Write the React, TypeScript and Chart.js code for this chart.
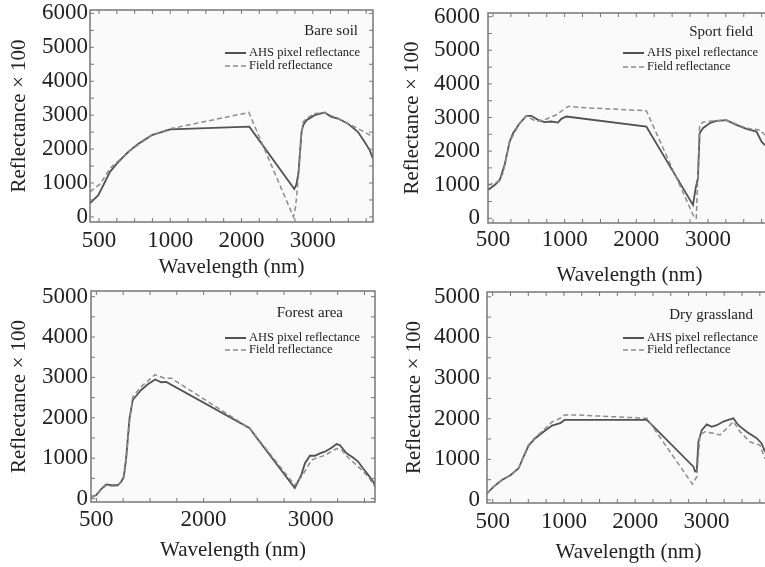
import React, { useEffect, useRef } from 'react';
import { Chart, registerables, LinearScale } from 'chart.js';

// ---------- data ----------
const panelTitles = ['Bare soil', 'Sport field', 'Forest area', 'Dry grassland'];
const seriesLabels = ['AHS pixel reflectance', 'Field reflectance'];
const xAxisTitle = 'Wavelength (nm)';
const yAxisTitle = 'Reflectance \u00d7 100';

const xTicksStd = [500, 1000, 2000, 3000];
const xTickLabelsStd = ['500', '1000', '2000', '3000'];
const xTicksForest = [500, 2000, 3000];
const xTickLabelsForest = ['500', '2000', '3000'];
const yTicksTop = [0, 1000, 2000, 3000, 4000, 5000, 6000];
const yTicksBottom = [0, 1000, 2000, 3000, 4000, 5000];

const bareSoilAhsX = [437, 495, 542, 577, 636, 707, 777, 871, 1000, 2110, 2741, 2770, 2800, 2825, 2843, 2866, 2912, 3028, 3168, 3262, 3355, 3495, 3636, 3729, 3799, 3846];
const bareSoilAhsY = [400, 640, 1030, 1330, 1620, 1920, 2160, 2410, 2580, 2660, 820, 950, 1300, 2000, 2500, 2700, 2850, 3000, 3080, 2950, 2900, 2750, 2500, 2210, 1970, 1720];
const bareSoilFieldX = [437, 510, 577, 707, 871, 1000, 2103, 2730, 2760, 2800, 2840, 2866, 2912, 3028, 3168, 3355, 3542, 3729, 3846];
const bareSoilFieldY = [740, 980, 1430, 1920, 2410, 2600, 3080, 0, 300, 1200, 2400, 2800, 2900, 3050, 3070, 2900, 2700, 2500, 2360];

const sportAhsX = [465, 512, 547, 581, 616, 640, 686, 733, 767, 814, 860, 907, 953, 977, 1023, 2140, 2791, 2828, 2860, 2884, 2930, 3023, 3117, 3257, 3397, 3537, 3678, 3748, 3794];
const sportAhsY = [845, 990, 1140, 1590, 2280, 2530, 2830, 3050, 3050, 2930, 2860, 2880, 2850, 2960, 3030, 2730, 400, 890, 1190, 2530, 2680, 2830, 2900, 2920, 2780, 2660, 2580, 2280, 2180];
const sportFieldX = [465, 535, 570, 616, 686, 733, 802, 860, 942, 1047, 1209, 2140, 2814, 2837, 2884, 2930, 3070, 3257, 3537, 3724, 3794];
const sportFieldY = [990, 1090, 1340, 2280, 2830, 3050, 2880, 2930, 3080, 3330, 3300, 3200, 0, 0, 2780, 2860, 2900, 2920, 2680, 2630, 2480];

const forestAhsX = [425, 495, 565, 636, 706, 799, 846, 883, 916, 963, 1009, 1126, 1220, 1322, 1407, 1477, 2430, 2477, 2850, 2913, 2944, 2991, 3037, 3084, 3131, 3193, 3240, 3271, 3333, 3396, 3442, 3489, 3536, 3583, 3598];
const forestAhsY = [40, 80, 230, 350, 330, 330, 410, 540, 990, 1980, 2440, 2690, 2830, 2950, 2880, 2890, 1740, 1570, 260, 600, 870, 1060, 1060, 1120, 1160, 1260, 1350, 1320, 1120, 1010, 910, 740, 580, 410, 330];
const forestFieldX = [425, 495, 565, 636, 706, 799, 883, 916, 963, 1009, 1126, 1322, 1454, 1547, 2430, 2850, 2913, 3006, 3037, 3131, 3240, 3287, 3349, 3442, 3536, 3598];
const forestFieldY = [30, 80, 210, 330, 310, 310, 500, 910, 1900, 2520, 2770, 3070, 2980, 2980, 1740, 330, 540, 950, 990, 1070, 1240, 1200, 1010, 790, 540, 290];

const grassAhsX = [460, 507, 565, 624, 682, 717, 752, 799, 857, 916, 974, 1009, 2164, 2818, 2841, 2864, 2888, 2935, 3005, 3075, 3145, 3238, 3308, 3379, 3449, 3565, 3706, 3776, 3822];
const grassAhsY = [160, 330, 490, 610, 780, 1070, 1340, 1520, 1680, 1830, 1890, 1970, 1970, 820, 700, 710, 1430, 1720, 1860, 1800, 1840, 1930, 1970, 2010, 1840, 1680, 1520, 1390, 1190];
const grassFieldX = [460, 507, 565, 624, 682, 717, 752, 799, 857, 916, 974, 1009, 1195, 2164, 2804, 2864, 2911, 2981, 3098, 3191, 3285, 3379, 3472, 3612, 3752, 3822];
const grassFieldY = [160, 330, 490, 610, 780, 1080, 1360, 1540, 1720, 1920, 2010, 2090, 2090, 2010, 390, 570, 1600, 1680, 1640, 1600, 1760, 1930, 1680, 1430, 1350, 1020];

// ---------- piecewise x scale (tick labels equally spaced) ----------
const anchorMap = new WeakMap<HTMLCanvasElement, number[]>();

class PiecewiseScale extends LinearScale {
  static id = 'piecewise';
  static defaults = LinearScale.defaults;
  anchors(): number[] {
    return anchorMap.get((this as any).chart.canvas) || [0, 1];
  }
  toU(v: number): number {
    const a = this.anchors();
    const n = a.length;
    if (v <= a[1]) return (v - a[0]) / (a[1] - a[0]);
    for (let i = 1; i < n - 1; i++) {
      if (v <= a[i + 1]) return i + (v - a[i]) / (a[i + 1] - a[i]);
    }
    return n - 2 + (v - a[n - 2]) / (a[n - 1] - a[n - 2]);
  }
  fromU(u: number): number {
    const a = this.anchors();
    const n = a.length;
    const i = Math.max(0, Math.min(n - 2, Math.floor(u)));
    return a[i] + (u - i) * (a[i + 1] - a[i]);
  }
  buildTicks() {
    (this as any).start = this.min;
    (this as any).end = this.max;
    return this.anchors().map((v) => ({ value: v }));
  }
  getPixelForValue(value: number) {
    const u0 = this.toU(this.min);
    const u1 = this.toU(this.max);
    return this.getPixelForDecimal((this.toU(value) - u0) / (u1 - u0));
  }
  getValueForPixel(pixel: number) {
    const u0 = this.toU(this.min);
    const u1 = this.toU(this.max);
    return this.fromU(u0 + this.getDecimalForPixel(pixel) * (u1 - u0));
  }
}

Chart.register(...registerables, PiecewiseScale as any);

// ---------- layout ----------
const FONT = '"Liberation Serif", "DejaVu Serif", "Times New Roman", serif';

type Panel = {
  title: string;
  ahsX: number[]; ahsY: number[]; fieldX: number[]; fieldY: number[];
  xTicks: number[]; xLabels: string[]; yTicks: number[];
  xMin: number; xMax: number; yMin: number; yMax: number;
  canvas: { left: number; top: number; w: number; h: number };
  plot: { l: number; t: number; r: number; b: number };
  yTitlePad: number; xTitlePad: number; xTickPad: number; yTickPad: number;
  titleDx: number; titleDy: number; legendDy: number[]; legendDx: number;
};

const panels: Panel[] = [
  {
    title: panelTitles[0], ahsX: bareSoilAhsX, ahsY: bareSoilAhsY, fieldX: bareSoilFieldX, fieldY: bareSoilFieldY,
    xTicks: xTicksStd, xLabels: xTickLabelsStd, yTicks: yTicksTop,
    xMin: 437, xMax: 3846, yMin: -150, yMax: 6100,
    canvas: { left: 0, top: 0, w: 380, h: 300 }, plot: { l: 90, t: 10, r: 373, b: 222 },
    yTitlePad: 7, xTitlePad: 20, xTickPad: 5, yTickPad: 2,
    titleDx: 15, titleDy: 21, legendDy: [43, 56], legendDx: 148,
  },
  {
    title: panelTitles[1], ahsX: sportAhsX, ahsY: sportAhsY, fieldX: sportFieldX, fieldY: sportFieldY,
    xTicks: xTicksStd, xLabels: xTickLabelsStd, yTicks: yTicksTop,
    xMin: 465, xMax: 3880, yMin: -140, yMax: 6110,
    canvas: { left: 385, top: 0, w: 395, h: 300 }, plot: { l: 488, t: 13, r: 771, b: 223 },
    yTitlePad: 15, xTitlePad: 12, xTickPad: 3, yTickPad: 8,
    titleDx: 18, titleDy: 19, legendDy: [40, 54], legendDx: 148,
  },
  {
    title: panelTitles[2], ahsX: forestAhsX, ahsY: forestAhsY, fieldX: forestFieldX, fieldY: forestFieldY,
    xTicks: xTicksForest, xLabels: xTickLabelsForest, yTicks: yTicksBottom,
    xMin: 425, xMax: 3598, yMin: -85, yMax: 5140,
    canvas: { left: 0, top: 280, w: 380, h: 287 }, plot: { l: 91, t: 291, r: 375, b: 502 },
    yTitlePad: 7, xTitlePad: 4, xTickPad: 4, yTickPad: 3,
    titleDx: 32, titleDy: 22, legendDy: [47, 59], legendDx: 150,
  },
  {
    title: panelTitles[3], ahsX: grassAhsX, ahsY: grassAhsY, fieldX: grassFieldX, fieldY: grassFieldY,
    xTicks: xTicksStd, xLabels: xTickLabelsStd, yTicks: yTicksBottom,
    xMin: 460, xMax: 3893, yMin: -74, yMax: 5118,
    canvas: { left: 385, top: 280, w: 395, h: 287 }, plot: { l: 487, t: 292, r: 770, b: 503 },
    yTitlePad: 17, xTitlePad: 1.5, xTickPad: 5, yTickPad: 7,
    titleDx: 17, titleDy: 23, legendDy: [46, 58], legendDx: 147,
  },
];

const SOLID = '#525252';
const DASHED = '#8c8c8c';
const FRAME = '#777777';

function makePlugin(p: Panel) {
  return {
    id: 'panelDecor',
    beforeDatasetsDraw(chart: any) {
      const { ctx, chartArea: a } = chart;
      ctx.save();
      ctx.fillStyle = '#fafafa';
      ctx.fillRect(a.left, a.top, a.right - a.left, a.bottom - a.top);
      ctx.restore();
    },
    afterDatasetsDraw(chart: any) {
      const { ctx, chartArea: a } = chart;
      const xs = chart.scales.x;
      const ys = chart.scales.y;
      ctx.save();
      // frame
      ctx.strokeStyle = FRAME;
      ctx.lineWidth = 1.5;
      ctx.strokeRect(a.left, a.top, a.right - a.left, a.bottom - a.top);
      // x ticks (inward, top and bottom)
      ctx.lineWidth = 1;
      const major = p.xTicks.map((v) => xs.getPixelForValue(v));
      const xPos: number[] = [];
      for (let i = 0; i < major.length; i++) {
        const next = i < major.length - 1 ? major[i + 1] : null;
        const d = next !== null ? (next - major[i]) / 4 : (major[i] - major[i - 1]) / 4;
        if (i === 0) {
          for (let x = major[0] - d; x > a.left + 1; x -= d) xPos.push(x);
        }
        if (next === null) {
          for (let xx = major[i]; xx < a.right - 1; xx += d) xPos.push(xx);
        } else {
          for (let k = 0; k < 4; k++) xPos.push(major[i] + k * d);
        }
      }
      ctx.beginPath();
      xPos.forEach((x) => {
        ctx.moveTo(x, a.bottom);
        ctx.lineTo(x, a.bottom - 4);
        ctx.moveTo(x, a.top);
        ctx.lineTo(x, a.top + 4);
      });
      // y ticks every 500 (left and right)
      for (let v = 0; v <= p.yMax; v += 500) {
        const y = ys.getPixelForValue(v);
        ctx.moveTo(a.left, y);
        ctx.lineTo(a.left + 4, y);
        ctx.moveTo(a.right, y);
        ctx.lineTo(a.right - 4, y);
      }
      ctx.stroke();
      // panel title
      ctx.fillStyle = '#222';
      ctx.textBaseline = 'middle';
      ctx.textAlign = 'right';
      ctx.font = `15px ${FONT}`;
      ctx.fillText(p.title, a.right - p.titleDx, a.top + p.titleDy);
      // legend
      ctx.font = `12.5px ${FONT}`;
      ctx.textAlign = 'left';
      const lx = a.right - p.legendDx;
      const styles = [
        { c: SOLID, w: 2, d: [] as number[] },
        { c: DASHED, w: 1.5, d: [5, 3] },
      ];
      seriesLabels.forEach((lab, i) => {
        const y = a.top + p.legendDy[i];
        ctx.beginPath();
        ctx.strokeStyle = styles[i].c;
        ctx.lineWidth = styles[i].w;
        ctx.setLineDash(styles[i].d);
        ctx.moveTo(lx, y);
        ctx.lineTo(lx + 21, y);
        ctx.stroke();
        ctx.setLineDash([]);
        ctx.fillStyle = '#222';
        ctx.fillText(lab, lx + 24, y);
      });
      ctx.restore();
    },
  };
}

function PanelChart({ p }: { p: Panel }) {
  const ref = useRef<HTMLCanvasElement | null>(null);
  useEffect(() => {
    const canvas = ref.current;
    if (!canvas) return;
    anchorMap.set(canvas, p.xTicks);
    const toPts = (xs: number[], ys: number[]) => xs.map((x, i) => ({ x, y: ys[i] }));
    const chart = new Chart(canvas, {
      type: 'line',
      data: {
        datasets: [
          {
            label: seriesLabels[1],
            data: toPts(p.fieldX, p.fieldY),
            borderColor: DASHED,
            borderWidth: 1.5,
            borderDash: [5, 3],
            pointRadius: 0,
            tension: 0,
            fill: false,
          },
          {
            label: seriesLabels[0],
            data: toPts(p.ahsX, p.ahsY),
            borderColor: SOLID,
            borderWidth: 1.8,
            pointRadius: 0,
            tension: 0,
            fill: false,
          },
        ],
      },
      options: {
        responsive: false,
        animation: false,
        devicePixelRatio: 1,
        events: [],
        layout: {
          padding: {
            left: 0,
            top: p.plot.t - p.canvas.top,
            right: p.canvas.left + p.canvas.w - p.plot.r,
            bottom: 0,
          },
        },
        plugins: { legend: { display: false }, tooltip: { enabled: false }, title: { display: false } },
        scales: {
          x: {
            type: 'piecewise' as any,
            min: p.xMin,
            max: p.xMax,
            grid: { display: false, drawTicks: false },
            border: { display: false },
            ticks: {
              autoSkip: false,
              maxRotation: 0,
              padding: p.xTickPad,
              color: '#222',
              font: { family: FONT, size: 23 },
              callback: (_v: any, i: number) => p.xLabels[i],
            },
            title: {
              display: true,
              text: xAxisTitle,
              color: '#222',
              font: { family: FONT, size: 21 },
              padding: { top: 0, bottom: p.xTitlePad },
            },
            afterFit: (s: any) => {
              s.height = p.canvas.top + p.canvas.h - p.plot.b;
              s.paddingLeft = 0;
              s.paddingRight = 0;
              s.paddingTop = 0;
              s.paddingBottom = 0;
            },
          } as any,
          y: {
            type: 'linear',
            min: p.yMin,
            max: p.yMax,
            grid: { display: false, drawTicks: false },
            border: { display: false },
            afterBuildTicks: (s: any) => {
              s.ticks = p.yTicks.map((v) => ({ value: v }));
            },
            ticks: {
              padding: p.yTickPad,
              color: '#222',
              font: { family: FONT, size: 23 },
              callback: (v: any) => String(v),
            },
            title: {
              display: true,
              text: yAxisTitle,
              color: '#222',
              font: { family: FONT, size: 21 },
              padding: { top: p.yTitlePad, bottom: 0 },
            },
            afterFit: (s: any) => {
              s.width = p.plot.l - p.canvas.left;
              s.paddingLeft = 0;
              s.paddingRight = 0;
              s.paddingTop = 0;
              s.paddingBottom = 0;
            },
          } as any,
        },
      },
      plugins: [makePlugin(p)],
    });
    return () => chart.destroy();
  }, [p]);
  return (
    <canvas
      ref={ref}
      width={p.canvas.w}
      height={p.canvas.h}
      style={{
        position: 'absolute',
        left: p.canvas.left,
        top: p.canvas.top,
        width: p.canvas.w,
        height: p.canvas.h,
      }}
    />
  );
}

export default function App() {
  return (
    <div
      style={{
        position: 'absolute',
        left: 0,
        top: 0,
        width: 765,
        height: 567,
        overflow: 'hidden',
        background: '#ffffff',
      }}
    >
      {panels.map((p, i) => (
        <PanelChart key={i} p={p} />
      ))}
    </div>
  );
}
